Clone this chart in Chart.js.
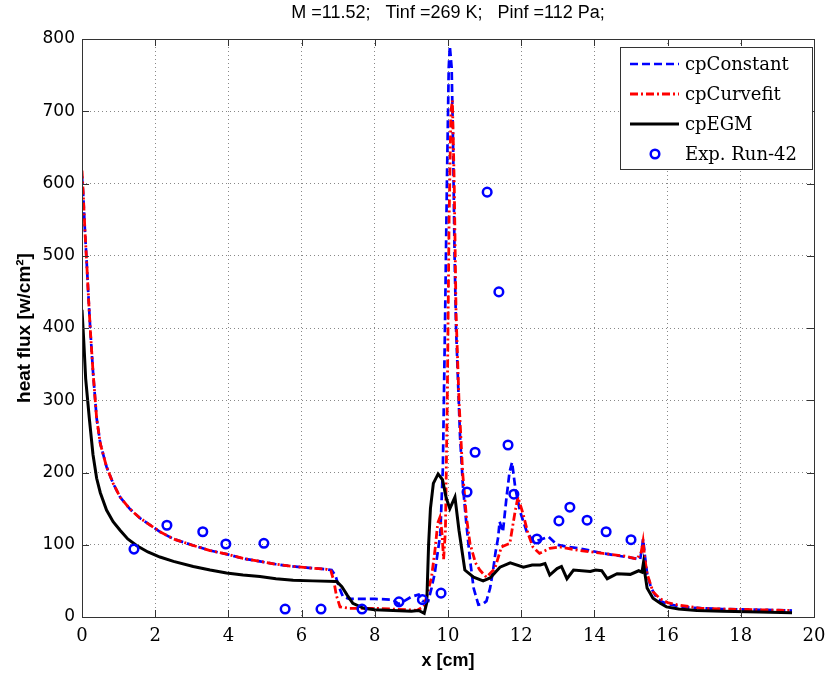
<!DOCTYPE html>
<html>
<head>
<meta charset="utf-8">
<script src="https://cdn.jsdelivr.net/npm/chart.js@4.4.1/dist/chart.umd.min.js"></script>
<style>
  html, body { margin: 0; padding: 0; background: #fff; }
  #wrap { width: 829px; height: 679px; }
</style>
</head>
<body>
<div id="wrap"><canvas id="fluxChart" width="829" height="679"></canvas></div>
<script>
// Heat flux along the surface: x in cm, q in W/cm^2
const constX = [0, 0.03, 0.08, 0.13, 0.18, 0.23, 0.3, 0.4, 0.5, 0.67, 0.85, 1.04, 1.3, 1.58, 2.13, 2.5, 3.04, 3.5, 3.95, 4.4, 4.86, 5.3, 5.77, 6.2, 6.68, 6.82, 6.92, 7.02, 7.13, 7.3, 8.0, 8.5, 8.65, 8.8, 9.0, 9.2, 9.3, 9.4, 9.46, 9.55, 9.64, 9.72, 9.79, 9.86, 9.92, 9.97, 10.02, 10.05, 10.1, 10.14, 10.18, 10.22, 10.33, 10.41, 10.5, 10.6, 10.7, 10.83, 10.95, 11.05, 11.15, 11.23, 11.3, 11.37, 11.41, 11.5, 11.6, 11.68, 11.75, 11.84, 11.97, 12.15, 12.34, 12.52, 12.75, 12.98, 13.3, 13.6, 14.24, 14.88, 15.25, 15.3, 15.33, 15.38, 15.44, 15.55, 15.7, 15.85, 16.0, 16.3, 16.6, 17.0, 17.5, 18.5, 19.4];
const constY = [610, 588, 535, 489, 440, 395, 340, 275, 240, 208, 185, 166, 150, 137, 118, 108, 99, 92, 87, 81, 77, 73, 70, 68, 66, 65, 58, 42, 28, 25, 25, 24, 18, 22, 28, 31, 22, 22, 22, 40, 61, 90, 115, 207, 411, 600, 760, 790, 760, 650, 500, 400, 249, 180, 130, 80, 40, 17, 18, 22, 40, 64, 90, 110, 132, 118, 166, 200, 214, 178, 146, 118, 104, 107, 111, 100, 97, 95, 88, 83, 80, 95, 108, 85, 60, 40, 27, 21, 18, 15, 13, 12, 11, 10, 9];

const curveX = [0, 0.03, 0.08, 0.13, 0.18, 0.23, 0.3, 0.4, 0.5, 0.67, 0.85, 1.04, 1.3, 1.58, 2.13, 2.5, 3.04, 3.5, 3.95, 4.4, 4.86, 5.3, 5.77, 6.2, 6.68, 6.8, 6.88, 6.95, 7.05, 7.3, 8.0, 8.5, 8.9, 9.15, 9.35, 9.45, 9.55, 9.65, 9.72, 9.78, 9.83, 9.88, 9.93, 9.98, 10.03, 10.08, 10.12, 10.17, 10.22, 10.3, 10.4, 10.5, 10.6, 10.75, 10.87, 11.05, 11.28, 11.46, 11.6, 11.69, 11.82, 11.91, 12.05, 12.19, 12.32, 12.5, 12.78, 13.05, 13.6, 14.24, 14.88, 15.16, 15.28, 15.33, 15.38, 15.44, 15.6, 15.8, 16.0, 16.25, 16.9, 17.5, 18.5, 19.4];
const curveY = [618, 590, 535, 489, 440, 395, 340, 275, 240, 208, 185, 166, 150, 137, 118, 108, 99, 92, 87, 81, 77, 73, 70, 68, 66, 64, 50, 30, 14, 12, 12, 11, 10, 9, 15, 35, 55, 95, 130, 138, 120, 80, 120, 300, 550, 700, 715, 600, 420, 300, 200, 140, 102, 75, 65, 55, 67, 97, 100, 102, 142, 166, 143, 115, 97, 88, 95, 97, 92, 88, 84, 80, 90, 105, 80, 60, 35, 25, 20, 17, 12, 11, 10, 9];

const egmX = [0, 0.05, 0.1, 0.2, 0.3, 0.4, 0.5, 0.67, 0.85, 1.04, 1.25, 1.49, 1.8, 2.13, 2.5, 3.04, 3.5, 3.95, 4.4, 4.86, 5.3, 5.77, 6.3, 6.96, 7.1, 7.25, 7.4, 7.7, 8.0, 8.5, 9.0, 9.2, 9.35, 9.42, 9.47, 9.52, 9.6, 9.73, 9.85, 9.95, 10.05, 10.19, 10.3, 10.46, 10.7, 10.96, 11.15, 11.42, 11.7, 12.06, 12.3, 12.52, 12.65, 12.78, 12.98, 13.1, 13.25, 13.43, 13.89, 14.03, 14.2, 14.35, 14.62, 14.98, 15.21, 15.3, 15.34, 15.38, 15.44, 15.6, 15.8, 15.97, 16.3, 16.8, 17.5, 18.5, 19.4];
const egmY = [425, 380, 330, 275, 225, 192, 172, 148, 132, 120, 108, 99, 90, 83, 77, 70, 65, 61, 58, 56, 53, 51, 50, 49, 42, 30, 19, 12, 10, 9, 8, 9, 5, 20, 100, 150, 185, 198, 190, 165, 150, 166, 120, 65, 55, 50, 54, 69, 75, 69, 72, 72, 74, 58, 67, 70, 53, 65, 63, 65, 64, 53, 60, 59, 64, 62, 75, 60, 40, 26, 19, 14, 11, 9, 8, 7, 6];

const expX = [1.42, 2.32, 3.3, 3.93, 4.97, 5.55, 6.53, 7.65, 8.66, 9.3, 9.81, 10.52, 10.74, 11.07, 11.39, 11.64, 11.8, 12.43, 13.03, 13.33, 13.8, 14.32, 15.0];
const expY = [94, 127, 118, 101, 102, 11, 11, 11, 21, 24, 33, 173, 228, 588, 450, 238, 170, 108, 133, 152, 134, 118, 107];

const xTicks = [0, 2, 4, 6, 8, 10, 12, 14, 16, 18, 20];
const yTicks = [0, 100, 200, 300, 400, 500, 600, 700, 800];

const seriesLabels = ['cpConstant', 'cpCurvefit', 'cpEGM', 'Exp. Run-42'];

const toPoints = (xs, ys) => xs.map((x, i) => ({ x: x, y: ys[i] }));

// frame + inward tick marks, matlab style
const frameTicks = {
  id: 'frameTicks',
  afterDatasetsDraw(chart) {
    const { ctx, chartArea: a, scales } = chart;
    const len = 7;
    ctx.save();
    ctx.strokeStyle = '#333';
    ctx.lineWidth = 1;
    ctx.setLineDash([]);
    ctx.beginPath();
    xTicks.forEach(v => {
      const px = Math.round(scales.x.getPixelForValue(v)) + 0.5;
      ctx.moveTo(px, a.bottom); ctx.lineTo(px, a.bottom - len);
      ctx.moveTo(px, a.top); ctx.lineTo(px, a.top + len);
    });
    yTicks.forEach(v => {
      const py = Math.round(scales.y.getPixelForValue(v)) + 0.5;
      ctx.moveTo(a.left, py); ctx.lineTo(a.left + len, py);
      ctx.moveTo(a.right, py); ctx.lineTo(a.right - len, py);
    });
    ctx.stroke();
    ctx.strokeRect(Math.round(a.left) + 0.5, Math.round(a.top) + 0.5,
      Math.round(a.right - a.left), Math.round(a.bottom - a.top));
    ctx.restore();
  }
};

// legend box inside the top right corner
const boxLegend = {
  id: 'boxLegend',
  afterDraw(chart) {
    const { ctx, chartArea: a } = chart;
    const w = 192, rowH = 30;
    const left = a.right - w - 2, top = a.top + 8;
    const h = rowH * 4 + 2;
    ctx.save();
    ctx.fillStyle = '#fff';
    ctx.fillRect(left, top, w, h);
    ctx.strokeStyle = '#333';
    ctx.lineWidth = 1;
    ctx.setLineDash([]);
    ctx.strokeRect(left + 0.5, top + 0.5, w, h);
    ctx.font = '18px "DejaVu Serif"';
    ctx.textBaseline = 'middle';
    ctx.fillStyle = '#000';
    chart.data.datasets.forEach((ds, i) => {
      const y = top + 17 + i * rowH;
      if (ds.showLine === false) {
        ctx.beginPath();
        ctx.setLineDash([]);
        ctx.lineWidth = ds.pointBorderWidth;
        ctx.strokeStyle = ds.pointBorderColor;
        ctx.arc(left + 35, y, ds.pointRadius, 0, Math.PI * 2);
        ctx.stroke();
      } else {
        ctx.beginPath();
        ctx.lineWidth = ds.borderWidth;
        ctx.strokeStyle = ds.borderColor;
        ctx.setLineDash(ds.borderDash || []);
        ctx.moveTo(left + 10, y);
        ctx.lineTo(left + 59, y);
        ctx.stroke();
      }
      ctx.setLineDash([]);
      ctx.fillStyle = '#000';
      ctx.fillText(ds.label, left + 65, y + 1);
    });
    ctx.restore();
  }
};

const chart = new Chart(document.getElementById('fluxChart').getContext('2d'), {
  type: 'scatter',
  data: {
    datasets: [
      {
        label: seriesLabels[0],
        data: toPoints(constX, constY),
        showLine: true,
        borderColor: '#0000ff',
        borderWidth: 2.7,
        borderDash: [8, 4],
        pointRadius: 0,
        tension: 0,
        order: 3
      },
      {
        label: seriesLabels[1],
        data: toPoints(curveX, curveY),
        showLine: true,
        borderColor: '#ff0000',
        borderWidth: 2.8,
        borderDash: [8, 3, 2, 3],
        pointRadius: 0,
        tension: 0,
        order: 2
      },
      {
        label: seriesLabels[2],
        data: toPoints(egmX, egmY),
        showLine: true,
        borderColor: '#000000',
        borderWidth: 3,
        pointRadius: 0,
        tension: 0,
        order: 1
      },
      {
        label: seriesLabels[3],
        data: toPoints(expX, expY),
        showLine: false,
        pointStyle: 'circle',
        pointRadius: 4.3,
        pointBorderWidth: 2.5,
        pointBorderColor: '#0000ff',
        pointBackgroundColor: 'rgba(0,0,0,0)',
        order: 0
      }
    ]
  },
  options: {
    responsive: false,
    animation: false,
    devicePixelRatio: 1,
    layout: { padding: { left: 0, right: 15, top: 0, bottom: 0 } },
    scales: {
      x: {
        type: 'linear',
        min: 0,
        max: 20,
        afterBuildTicks: (s) => { s.ticks = xTicks.map(v => ({ value: v })); },
        afterFit: (s) => { s.height = 62; s.paddingLeft = 0; s.paddingRight = 0; },
        grid: { color: '#888', lineWidth: 1, drawTicks: false },
        border: { display: false, dash: [1, 3] },
        ticks: { padding: 9, color: '#000', font: { family: 'DejaVu Serif', size: 18 } },
        title: {
          display: true,
          text: 'x [cm]',
          color: '#000',
          font: { family: 'Liberation Sans', size: 18, weight: 'bold' },
          padding: { top: 0, bottom: 7 }
        }
      },
      y: {
        type: 'linear',
        min: 0,
        max: 800,
        afterBuildTicks: (s) => { s.ticks = yTicks.map(v => ({ value: v })); },
        afterFit: (s) => { s.width = 82; s.paddingTop = 0; s.paddingBottom = 0; },
        grid: { color: '#888', lineWidth: 1, drawTicks: false },
        border: { display: false, dash: [1, 3] },
        ticks: { padding: 7, color: '#000', font: { family: 'DejaVu Sans', size: 17 } },
        title: {
          display: true,
          text: 'heat flux [w/cm\u00b2]',
          color: '#000',
          font: { family: 'Liberation Sans', size: 19, weight: 'bold' },
          padding: { top: 13, bottom: 0 }
        }
      }
    },
    plugins: {
      legend: { display: false },
      tooltip: { enabled: false },
      title: {
        display: true,
        fullSize: false,
        text: 'M =11.52;   Tinf =269 K;   Pinf =112 Pa;',
        color: '#000',
        font: { family: 'Liberation Sans', size: 18, weight: 'normal' },
        padding: { top: 2, bottom: 15.4 }
      }
    }
  },
  plugins: [frameTicks, boxLegend]
});
</script>
</body>
</html>
